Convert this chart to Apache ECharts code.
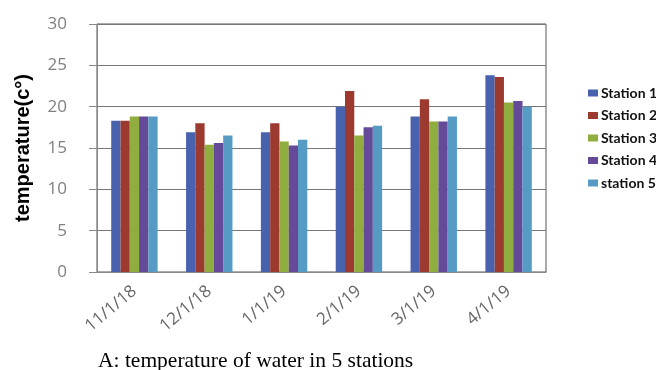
<!DOCTYPE html>
<html><head><meta charset="utf-8">
<script src="https://cdn.jsdelivr.net/npm/echarts@6/dist/echarts.min.js"></script>
<style>html,body{margin:0;padding:0;background:#fff}#c{width:656px;height:370px}</style>
</head><body><div id="c"></div>
<script>
const categories = ['11/1/18','12/1/18','1/1/19','2/1/19','3/1/19','4/1/19'];
const station1 = [18.3, 16.9, 16.9, 20.0, 18.8, 23.8];
const station2 = [18.3, 18.0, 18.0, 21.9, 20.9, 23.6];
const station3 = [18.8, 15.4, 15.8, 16.5, 18.2, 20.5];
const station4 = [18.8, 15.6, 15.3, 17.5, 18.2, 20.7];
const station5 = [18.8, 16.5, 16.0, 17.7, 18.8, 20.0];
const seriesNames = ['Station 1','Station 2','Station 3','Station 4','station 5'];
const colors = ['#4862AE','#9C3A30','#8FAE3F','#644A98','#559BC3'];
const allData = [station1, station2, station3, station4, station5];

const chart = echarts.init(document.getElementById('c'), null, {renderer:'canvas'});
chart.setOption({
  animation: false,
  backgroundColor: '#fff',
  color: colors,
  title: {
    text: 'A: temperature of water in 5 stations',
    left: 93, top: 345,
    textStyle: {fontFamily: 'Liberation Serif', fontSize: 21.5, fontWeight: 'normal', color: '#000'}
  },
  legend: {
    orient: 'vertical', left: 583, top: 81, itemGap: 8.5,
    itemWidth: 10, itemHeight: 7, icon: 'rect',
    textStyle: {fontFamily: 'Lato', fontSize: 14, fontWeight: 'bold', color: '#111', padding: [0,0,0,-2]},
    data: seriesNames
  },
  grid: {left: 97, right: 110, top: 24, bottom: 98, show: true, borderColor: '#555', borderWidth: 1},
  xAxis: {
    type: 'category', data: categories,
    axisLine: {lineStyle: {color: '#888'}},
    axisTick: {show: false},
    axisLabel: {rotate: 40, interval: 0, fontFamily: 'Open Sans', fontSize: 17, color: '#666', margin: 17}
  },
  yAxis: {
    type: 'value', min: 0, max: 30, interval: 5,
    name: 'temperature(c°)', nameLocation: 'middle', nameGap: 64,
    nameTextStyle: {fontFamily: 'Liberation Sans', fontSize: 20, fontWeight: 'bold', color: '#000'},
    axisLine: {show: true, lineStyle: {color: '#888'}},
    axisTick: {show: true, inside: false, length: 8, lineStyle: {color: '#888'}},
    axisLabel: {fontFamily: 'Open Sans', fontSize: 17, color: '#808080', margin: 30},
    splitLine: {lineStyle: {color: '#777', width: 1}}
  },
  series: seriesNames.map((n, i) => ({
    name: n, type: 'bar', data: allData[i],
    barGap: '0%', barCategoryGap: '38%',
    itemStyle: {color: colors[i]}
  }))
});
</script></body></html>
